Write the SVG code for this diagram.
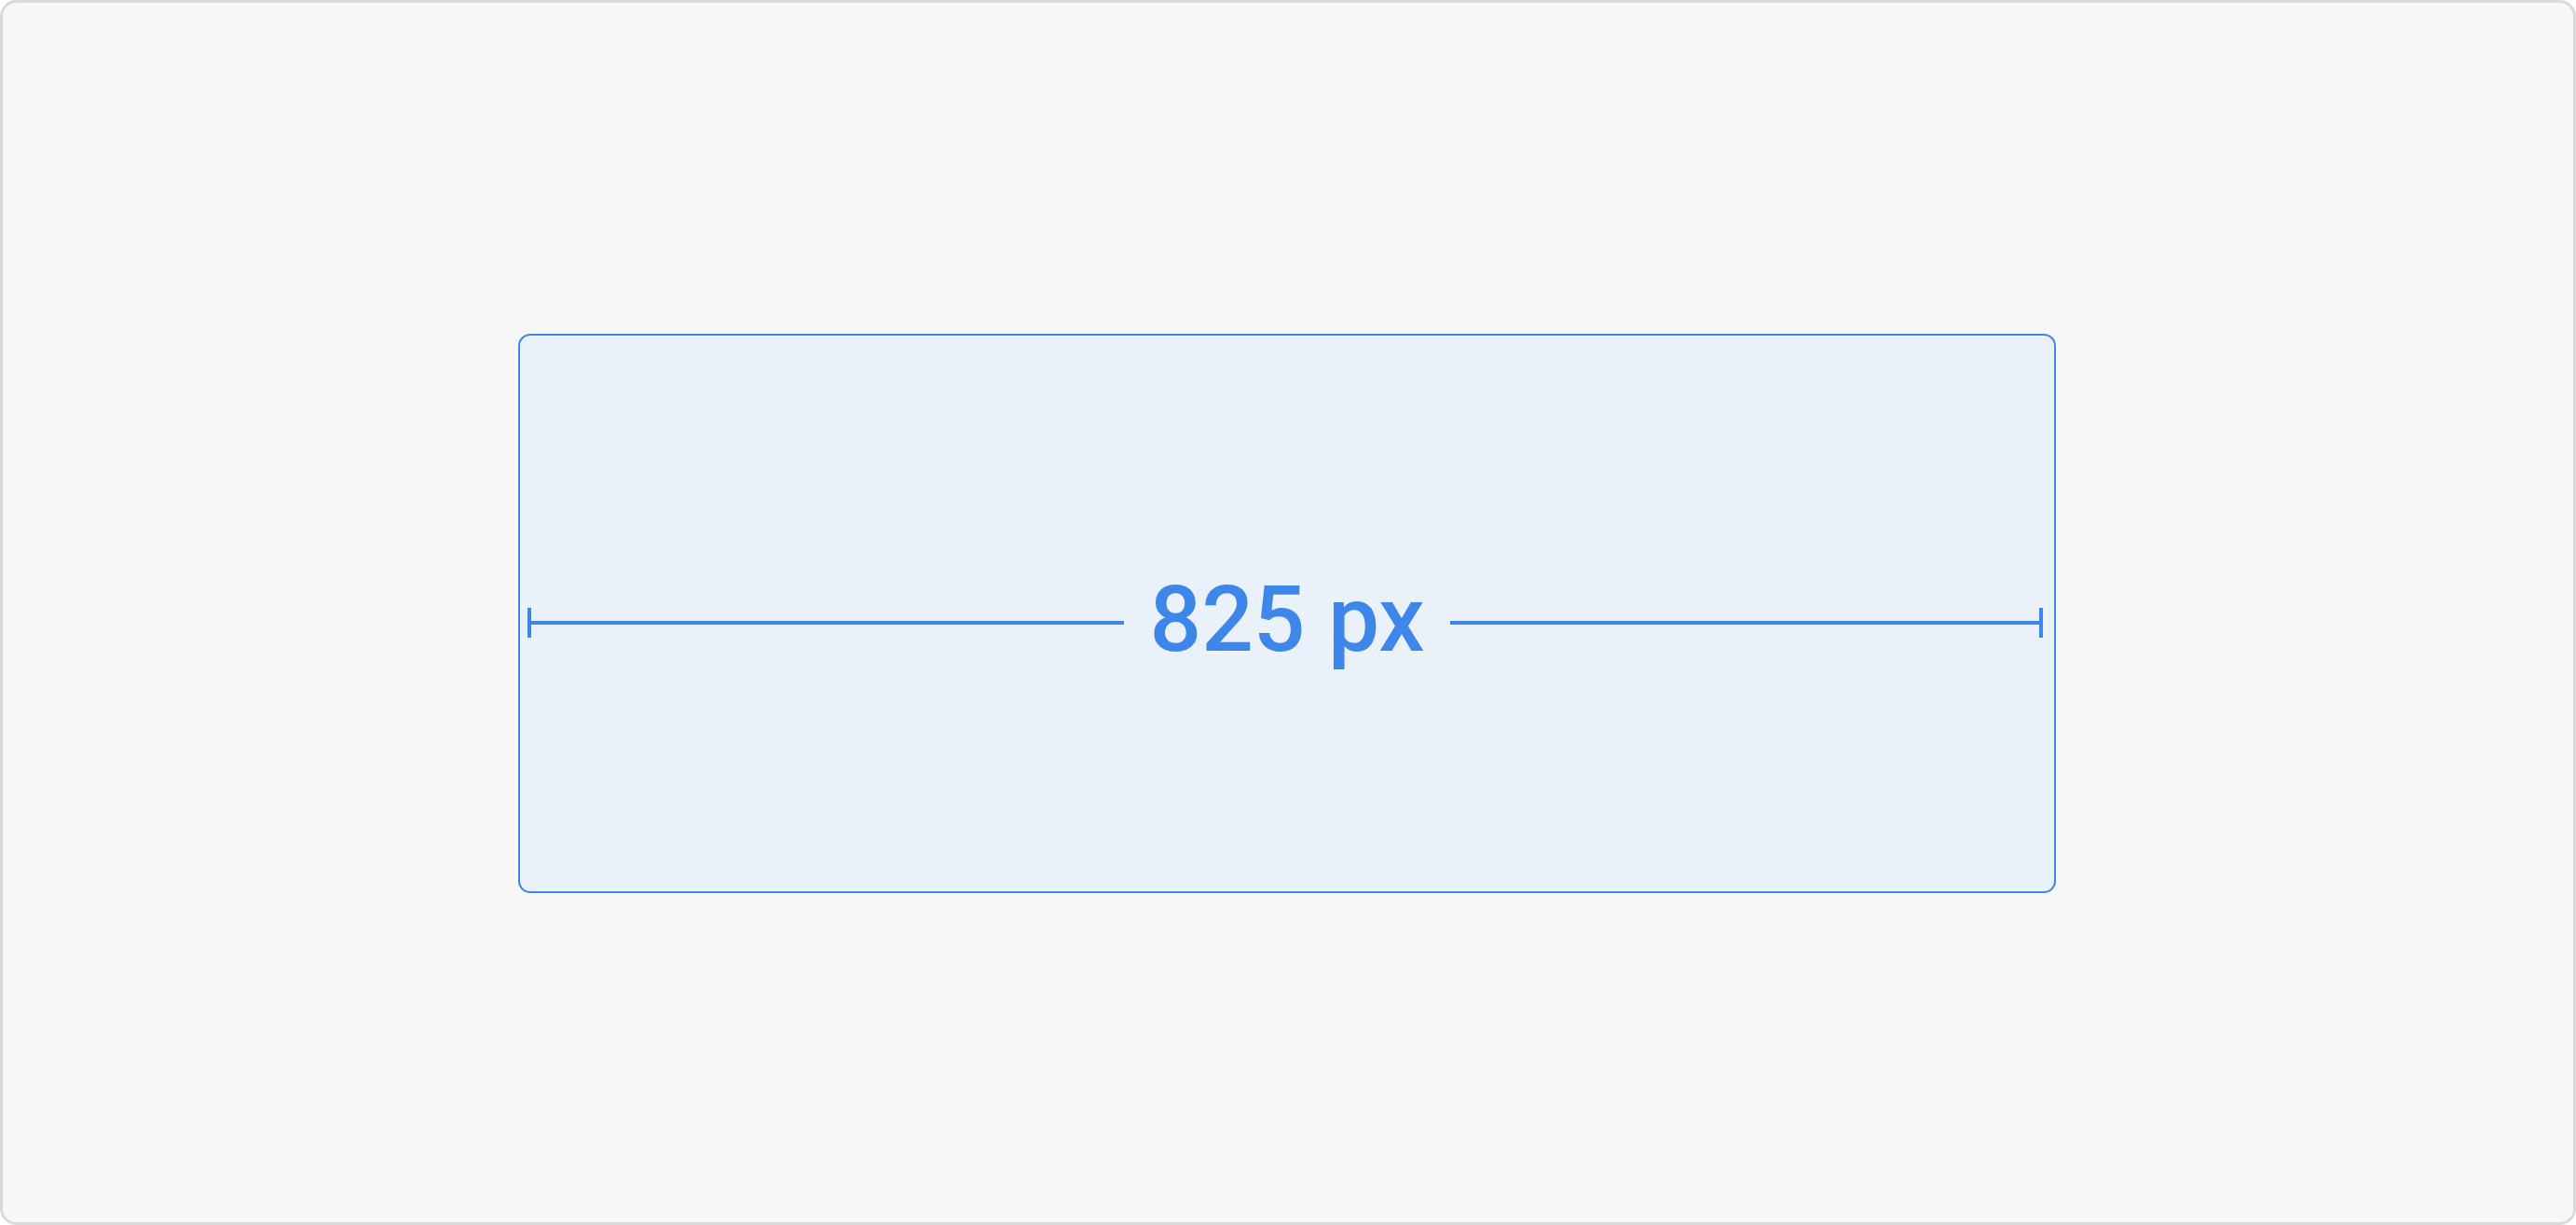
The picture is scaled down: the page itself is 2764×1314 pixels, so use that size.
<svg xmlns="http://www.w3.org/2000/svg" width="2764" height="1314" viewBox="0 0 2764 1314">
<style>
.frame{fill:#f7f7f7;stroke:#d9d9d9;stroke-width:3}
.box{fill:#eaf1fa;stroke:#3d86ea;stroke-width:2}
.dim{stroke:#3d86ea;stroke-width:4;fill:none}
.lbl{font-family:Roboto,"Liberation Sans",sans-serif;font-weight:500;font-size:98px;fill:#3d86ea}
</style>
<rect class="frame" x="1.5" y="1.5" width="2761" height="1311" rx="16"/>
<g id="box">
<rect class="box" x="557" y="359" width="1648" height="598" rx="12"/>
</g>
<g id="connectors">
<line class="dim" x1="568" y1="652" x2="568" y2="684"/>
<line class="dim" x1="568" y1="668" x2="1206" y2="668"/>
<line class="dim" x1="1556" y1="668" x2="2190" y2="668"/>
<line class="dim" x1="2190" y1="652" x2="2190" y2="684"/>
</g>
<g id="label">
<text class="lbl" x="1381" y="698" text-anchor="middle">825 px</text>
</g>
</svg>
